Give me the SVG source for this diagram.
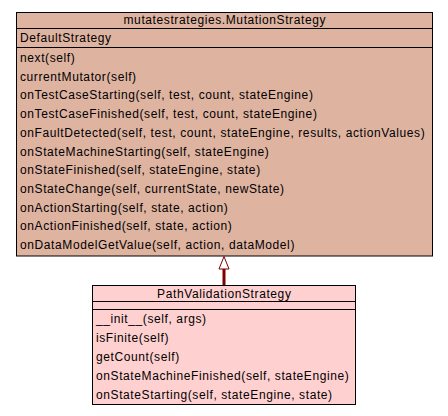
<svg xmlns="http://www.w3.org/2000/svg" width="448" height="416" viewBox="0 0 448 416">
<style>
.t{font-family:"Liberation Sans",Arial,sans-serif;font-size:12px;fill:#000;letter-spacing:0.6px}
.c{text-anchor:middle}
.b{stroke:#000;stroke-width:1}
</style>
<rect x="0" y="0" width="448" height="416" fill="#fff"/>
<g id="MutationStrategy">
<rect class="b" x="16.5" y="12.5" width="416" height="243.5" fill="#deb3a0"/>
<line class="b" x1="16" y1="28.5" x2="433" y2="28.5"/>
<line class="b" x1="16" y1="47.5" x2="433" y2="47.5"/>
<text class="t c" x="224.8" y="24">mutatestrategies.MutationStrategy</text>
<text class="t" x="20" y="42">DefaultStrategy</text>
<text class="t" x="20" y="62">next(self)</text>
<text class="t" x="20" y="80.7">currentMutator(self)</text>
<text class="t" x="20" y="99.4">onTestCaseStarting(self, test, count, stateEngine)</text>
<text class="t" x="20" y="118.1">onTestCaseFinished(self, test, count, stateEngine)</text>
<text class="t" x="20" y="136.8">onFaultDetected(self, test, count, stateEngine, results, actionValues)</text>
<text class="t" x="20" y="155.5">onStateMachineStarting(self, stateEngine)</text>
<text class="t" x="20" y="174.2">onStateFinished(self, stateEngine, state)</text>
<text class="t" x="20" y="192.9">onStateChange(self, currentState, newState)</text>
<text class="t" x="20" y="211.6">onActionStarting(self, state, action)</text>
<text class="t" x="20" y="230.3">onActionFinished(self, state, action)</text>
<text class="t" x="20" y="249">onDataModelGetValue(self, action, dataModel)</text>
</g>
<g id="PathValidationStrategy">
<rect class="b" x="92.5" y="285.5" width="263" height="119" fill="#ffd0d0"/>
<line class="b" x1="92" y1="301.5" x2="356" y2="301.5"/>
<line class="b" x1="92" y1="309.5" x2="356" y2="309.5"/>
<text class="t c" x="224.3" y="298">PathValidationStrategy</text>
<text class="t" x="96" y="323">__init__(self, args)</text>
<text class="t" x="96" y="342">isFinite(self)</text>
<text class="t" x="96" y="361">getCount(self)</text>
<text class="t" x="96" y="380">onStateMachineFinished(self, stateEngine)</text>
<text class="t" x="96" y="399">onStateStarting(self, stateEngine, state)</text>
</g>
<g id="connectors">
<line x1="224" y1="285" x2="224" y2="269" stroke="#800000" stroke-width="3"/>
<polygon points="224,256.5 219,269 229,269" fill="#fff" stroke="#800000" stroke-width="1"/>
</g>
</svg>
